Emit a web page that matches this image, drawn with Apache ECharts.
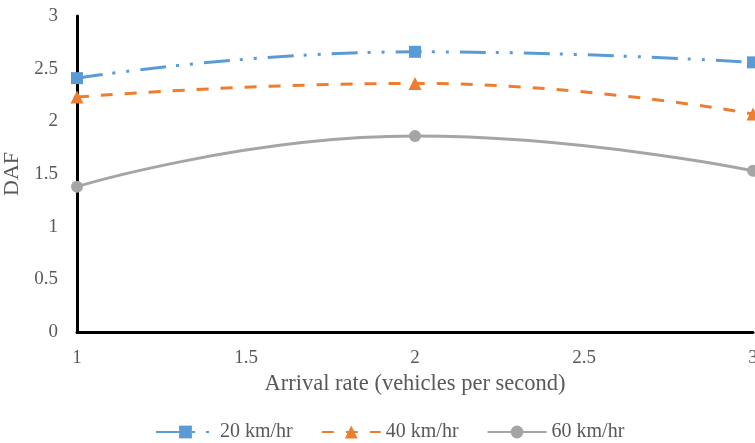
<!DOCTYPE html>
<html>
<head>
<meta charset="utf-8">
<script src="https://cdn.jsdelivr.net/npm/echarts@6/dist/echarts.min.js"></script>
<style>html,body{margin:0;padding:0;background:#fff;}#c{width:755px;height:443px;}</style>
</head>
<body>
<div id="c"></div>
<script>
const xValues = [1, 2, 3];
const seriesNames = ['20 km/hr', '40 km/hr', '60 km/hr'];
const speed20 = [2.41, 2.66, 2.56];
const speed40 = [2.23, 2.36, 2.07];
const speed60 = [1.38, 1.86, 1.53];
const xTitle = 'Arrival rate (vehicles per second)';
const yTitle = 'DAF';

const font = '"Liberation Serif", "Times New Roman", serif';
const textColor = '#595959';
const pair = (arr) => xValues.map((x, i) => [x, arr[i]]);

const chart = echarts.init(document.getElementById('c'), null, {renderer: 'canvas'});
chart.setOption({
  animation: false,
  backgroundColor: '#ffffff',
  grid: {left: 77, right: 2, top: 16, bottom: 111, containLabel: false, outerBoundsMode: 'none'},
  xAxis: {
    type: 'value', min: 1, max: 3, interval: 0.5,
    name: xTitle, nameLocation: 'middle', nameGap: 32,
    nameTextStyle: {fontFamily: font, fontSize: 22.5, color: textColor},
    axisLine: {show: true, onZero: false, lineStyle: {color: '#000', width: 3}},
    axisTick: {show: false},
    splitLine: {show: false},
    axisLabel: {fontFamily: font, fontSize: 19, color: textColor, margin: 17, showMaxLabel: true, showMinLabel: true, hideOverlap: false}
  },
  yAxis: {
    type: 'value', min: 0, max: 3, interval: 0.5,
    name: yTitle, nameLocation: 'middle', nameGap: 51, nameRotate: 90,
    nameTextStyle: {fontFamily: font, fontSize: 22, color: textColor},
    axisLine: {show: true, lineStyle: {color: '#000', width: 3}},
    axisTick: {show: false},
    splitLine: {show: false},
    axisLabel: {fontFamily: font, fontSize: 19, color: textColor, margin: 19}
  },
  legend: {
    left: 155, top: 422, padding: 0,
    itemWidth: 59, itemHeight: 16, itemGap: 28,
    textStyle: {fontFamily: font, fontSize: 20, color: textColor},
    data: seriesNames
  },
  series: [
    {
      name: seriesNames[0], type: 'line', smooth: true, data: pair(speed20),
      symbol: 'rect', symbolSize: 12,
      itemStyle: {color: '#5B9BD5'},
      lineStyle: {color: '#5B9BD5', width: 3, type: [26, 10, 3, 11, 3, 11]}
    },
    {
      name: seriesNames[1], type: 'line', smooth: true, data: pair(speed40),
      symbol: 'triangle', symbolSize: 13,
      itemStyle: {color: '#ED7D31'},
      lineStyle: {color: '#ED7D31', width: 3, type: [12, 12]}
    },
    {
      name: seriesNames[2], type: 'line', smooth: true, data: pair(speed60),
      symbol: 'circle', symbolSize: 12,
      itemStyle: {color: '#A5A5A5'},
      lineStyle: {color: '#A5A5A5', width: 3, type: 'solid'}
    }
  ]
});
</script>
</body>
</html>
